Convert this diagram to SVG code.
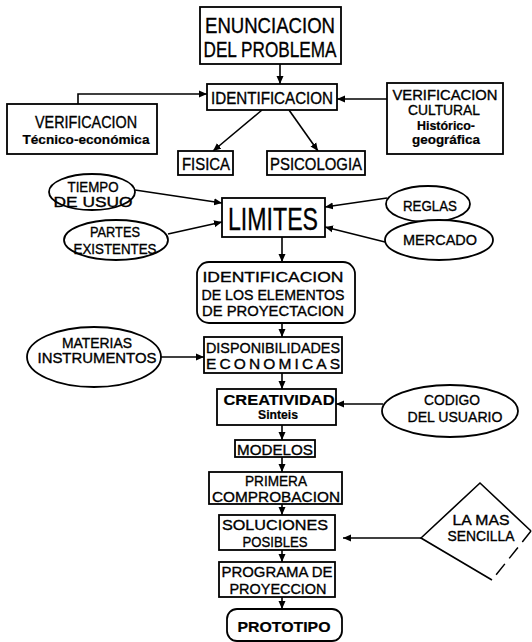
<svg xmlns="http://www.w3.org/2000/svg" width="532" height="642" viewBox="0 0 532 642">
<defs>
<marker id="ah" markerUnits="userSpaceOnUse" markerWidth="9" markerHeight="8" refX="8" refY="4" orient="auto">
<path d="M0,0.5 L8,4 L0,7.5 z" fill="#000"/>
</marker>
<style>
.n rect,.n ellipse{fill:#fff;stroke:#000;stroke-width:1.8}
.c path{fill:none;stroke:#000;stroke-width:1.6;marker-end:url(#ah)}
text{font-family:"Liberation Sans",Arial,sans-serif;text-anchor:middle;fill:#000;stroke:#000;stroke-width:0.35}
.b{font-weight:bold;stroke-width:0.2}
</style>
</defs>
<rect width="532" height="642" fill="#fff"/>
<g class="c" id="connectors">
<path d="M280,64 V84"/>
<path d="M78,104 V94 H207"/>
<path d="M387,99 H337"/>
<path d="M262,110 L213,151"/>
<path d="M289,110 L318,151"/>
<path d="M135,190 L222,203"/>
<path d="M168,234 L222,222"/>
<path d="M387,198 L325,207"/>
<path d="M385,242 L325,227"/>
<path d="M282,237 V262"/>
<path d="M282,323 V337"/>
<path d="M160,357 H204"/>
<path d="M282,373 V389"/>
<path d="M383,404 H336"/>
<path d="M282,425 V440"/>
<path d="M282,457 V472"/>
<path d="M282,504 V515"/>
<path d="M421,538 H343"/>
<path d="M282,550 V562"/>
<path d="M282,597 V609"/>
</g>
<g id="enunciacion" class="n">
<rect x="200" y="7" width="141" height="57"/>
<text x="270" y="33" font-size="22" textLength="130" lengthAdjust="spacingAndGlyphs">ENUNCIACION</text>
<text x="270" y="57" font-size="22" textLength="133" lengthAdjust="spacingAndGlyphs">DEL PROBLEMA</text>
</g>
<g id="identificacion" class="n">
<rect x="207" y="84" width="130" height="26"/>
<text x="272" y="104" font-size="16" textLength="122" lengthAdjust="spacingAndGlyphs">IDENTIFICACION</text>
</g>
<g id="verif-tecnico" class="n">
<rect x="7" y="104" width="150" height="50"/>
<text x="86" y="128" font-size="17" textLength="102" lengthAdjust="spacingAndGlyphs">VERIFICACION</text>
<text x="86" y="144" font-size="13" class="b" textLength="127" lengthAdjust="spacingAndGlyphs">Técnico-económica</text>
</g>
<g id="verif-cultural" class="n">
<rect x="387" y="83" width="116" height="71"/>
<text x="445" y="100" font-size="14.5" textLength="105" lengthAdjust="spacingAndGlyphs">VERIFICACION</text>
<text x="444" y="115" font-size="14.5" textLength="72" lengthAdjust="spacingAndGlyphs">CULTURAL</text>
<text x="446" y="130" font-size="12.5" class="b" textLength="58" lengthAdjust="spacingAndGlyphs">Histórico-</text>
<text x="446" y="144" font-size="12.5" class="b" textLength="68" lengthAdjust="spacingAndGlyphs">geográfica</text>
</g>
<g id="fisica" class="n">
<rect x="178" y="151" width="55" height="24"/>
<text x="206" y="170" font-size="17" textLength="48" lengthAdjust="spacingAndGlyphs">FISICA</text>
</g>
<g id="psicologia" class="n">
<rect x="267" y="151" width="98" height="24"/>
<text x="316" y="170" font-size="17" textLength="92" lengthAdjust="spacingAndGlyphs">PSICOLOGIA</text>
</g>
<g id="limites" class="n">
<rect x="222" y="198" width="103" height="39"/>
<text x="273" y="230" font-size="31" textLength="90" lengthAdjust="spacingAndGlyphs">LIMITES</text>
</g>
<g id="tiempo" class="n">
<ellipse cx="92" cy="192" rx="43" ry="18"/>
<text x="93" y="192" font-size="14" textLength="51" lengthAdjust="spacingAndGlyphs">TIEMPO</text>
<text x="93" y="207" font-size="14" textLength="79" lengthAdjust="spacingAndGlyphs">DE USUO</text>
</g>
<g id="partes" class="n">
<ellipse cx="116" cy="240" rx="52" ry="20"/>
<text x="115" y="237" font-size="14.5" textLength="50" lengthAdjust="spacingAndGlyphs">PARTES</text>
<text x="115" y="254" font-size="14.5" textLength="83" lengthAdjust="spacingAndGlyphs">EXISTENTES</text>
</g>
<g id="reglas" class="n">
<ellipse cx="428" cy="204" rx="42" ry="18"/>
<text x="430" y="211" font-size="15" textLength="54" lengthAdjust="spacingAndGlyphs">REGLAS</text>
</g>
<g id="mercado" class="n">
<ellipse cx="439" cy="240" rx="54" ry="20"/>
<text x="440" y="245" font-size="15" textLength="74" lengthAdjust="spacingAndGlyphs">MERCADO</text>
</g>
<g id="ident-elementos" class="n">
<rect x="197" y="262" width="158" height="61" rx="12"/>
<text x="273" y="282" font-size="15" textLength="141" lengthAdjust="spacingAndGlyphs">IDENTIFICACION</text>
<text x="273" y="300" font-size="15" textLength="143" lengthAdjust="spacingAndGlyphs">DE LOS ELEMENTOS</text>
<text x="273" y="316" font-size="15" textLength="142" lengthAdjust="spacingAndGlyphs">DE PROYECTACION</text>
</g>
<g id="disponibilidades" class="n">
<rect x="204" y="337" width="138" height="36"/>
<text x="273" y="353" font-size="15.5" textLength="134" lengthAdjust="spacingAndGlyphs">DISPONIBILIDADES</text>
<text x="273" y="369" font-size="15.5" textLength="134" lengthAdjust="spacing">ECONOMICAS</text>
</g>
<g id="materias" class="n">
<ellipse cx="94" cy="357" rx="67" ry="30"/>
<text x="97" y="348" font-size="14" textLength="70" lengthAdjust="spacingAndGlyphs">MATERIAS</text>
<text x="97" y="363" font-size="14" textLength="119" lengthAdjust="spacingAndGlyphs">INSTRUMENTOS</text>
</g>
<g id="creatividad" class="n">
<rect x="217" y="389" width="119" height="36"/>
<text x="279" y="405" font-size="15" class="b" textLength="111" lengthAdjust="spacingAndGlyphs">CREATIVIDAD</text>
<text x="278" y="419" font-size="12" class="b" textLength="40" lengthAdjust="spacingAndGlyphs">Sinteis</text>
</g>
<g id="codigo" class="n">
<ellipse cx="450" cy="411" rx="68" ry="26"/>
<text x="452" y="405" font-size="15" textLength="56" lengthAdjust="spacingAndGlyphs">CODIGO</text>
<text x="455" y="422" font-size="15" textLength="95" lengthAdjust="spacingAndGlyphs">DEL USUARIO</text>
</g>
<g id="modelos" class="n">
<rect x="235" y="440" width="80" height="17"/>
<text x="275" y="455" font-size="15" textLength="76" lengthAdjust="spacingAndGlyphs">MODELOS</text>
</g>
<g id="primera" class="n">
<rect x="209" y="472" width="133" height="32"/>
<text x="276" y="486" font-size="15" textLength="62" lengthAdjust="spacingAndGlyphs">PRIMERA</text>
<text x="276" y="502" font-size="15" textLength="128" lengthAdjust="spacingAndGlyphs">COMPROBACION</text>
</g>
<g id="soluciones" class="n">
<rect x="219" y="515" width="116" height="35"/>
<text x="275" y="530" font-size="15" textLength="106" lengthAdjust="spacingAndGlyphs">SOLUCIONES</text>
<text x="275" y="547" font-size="15" textLength="65" lengthAdjust="spacingAndGlyphs">POSIBLES</text>
</g>
<g id="programa" class="n">
<rect x="219" y="562" width="116" height="35"/>
<text x="277" y="577" font-size="15" textLength="111" lengthAdjust="spacingAndGlyphs">PROGRAMA DE</text>
<text x="278" y="594" font-size="15" textLength="97" lengthAdjust="spacingAndGlyphs">PROYECCION</text>
</g>
<g id="prototipo" class="n">
<rect x="227" y="609" width="115" height="32" rx="10"/>
<text x="284" y="632" font-size="15" class="b" textLength="93" lengthAdjust="spacingAndGlyphs">PROTOTIPO</text>
</g>
<g id="la-mas-sencilla">
<path d="M492,580 L421,538 L480,483 L531,531" fill="none" stroke="#000" stroke-width="1.6"/>
<path d="M531,531 L492,580" fill="none" stroke="#000" stroke-width="1.5" stroke-dasharray="14 7"/>
<text x="481" y="525" font-size="15" textLength="57" lengthAdjust="spacingAndGlyphs">LA MAS</text>
<text x="481" y="541" font-size="15" textLength="67" lengthAdjust="spacingAndGlyphs">SENCILLA</text>
</g>
</svg>
